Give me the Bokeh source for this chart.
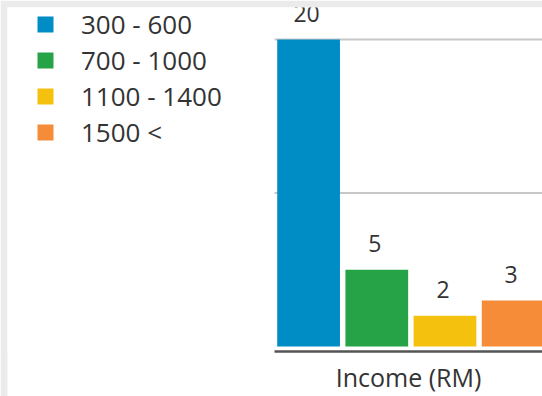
from bokeh.plotting import figure
from bokeh.models import ColumnDataSource, Range1d, FixedTicker, Legend, LegendItem
from bokeh.core.properties import value
from bokeh.embed import file_html
from bokeh.resources import INLINE

categories = ["300 - 600", "700 - 1000", "1100 - 1400", "1500 <"]
counts = [20, 5, 2, 3]
colors = ["#008cc4", "#27a347", "#f5c10f", "#f68b38"]
x_title = "Income (RM)"
grid_values = [10, 20]

FONT = "Open Sans"
TEXT_COLOR = "#333333"
PAGE_GREY = "#ebebeb"

X_START, X_END = -3.915, 3.93
TITLE_POS = X_END / 2  # centre of the bar area
xs = [i + 0.5 for i in range(len(categories))]
src = ColumnDataSource(dict(x=xs, count=counts, cat=categories, color=colors,
                            label=[str(c) for c in counts]))
grid_src = ColumnDataSource(dict(y=grid_values,
                                 x0=[0] * len(grid_values),
                                 x1=[X_END] * len(grid_values)))

p = figure(width=542, height=396, output_backend="svg", toolbar_location=None,
           x_range=Range1d(X_START, X_END), y_range=Range1d(-0.327, 22.09),
           min_border_left=7, min_border_right=0, min_border_top=7, min_border_bottom=0)
p.outline_line_color = None
p.background_fill_color = "white"
p.border_fill_color = PAGE_GREY

# horizontal grid lines only over the bar area
p.segment(x0="x0", x1="x1", y0="y", y1="y", source=grid_src,
          line_color="#c8c8c8", line_width=2)

r = p.vbar(x="x", top="count", bottom=0, width=0.92, source=src,
           fill_color="color", line_color=None)

p.text(x="x", y="count", text="label", source=src, text_align="center",
       text_baseline="alphabetic", y_offset=-26, x_offset=-2,
       text_font=value(FONT), text_font_size="23px", text_color=TEXT_COLOR)

p.yaxis.visible = False
p.xgrid.visible = False
p.ygrid.visible = False

# x axis: line under the bars, title centred under the bar area
xa = p.xaxis[0]
xa.bounds = (0, X_END)
xa.ticker = FixedTicker(ticks=[TITLE_POS])
xa.major_label_overrides = {TITLE_POS: x_title}
xa.major_tick_line_color = None
xa.minor_tick_line_color = None
xa.major_tick_out = 0
xa.major_tick_in = 0
xa.minor_tick_out = 0
xa.minor_tick_in = 0
xa.major_label_standoff = 8
xa.major_label_text_font = FONT
xa.major_label_text_font_size = "25px"
xa.major_label_text_color = TEXT_COLOR
xa.axis_line_color = "#555555"
xa.axis_line_width = 2.5
xa.background_fill_color = "white"

items = [LegendItem(label=c, renderers=[r], index=i) for i, c in enumerate(categories)]
legend = Legend(items=items, location=(28, 201), padding=0, margin=0,
                border_line_color=None, background_fill_alpha=0,
                glyph_width=20, glyph_height=20, label_standoff=26, spacing=0,
                label_text_font=FONT, label_text_font_size="26px",
                label_text_color=TEXT_COLOR)
p.add_layout(legend)

open("out.html", "w").write(file_html(p, INLINE))
